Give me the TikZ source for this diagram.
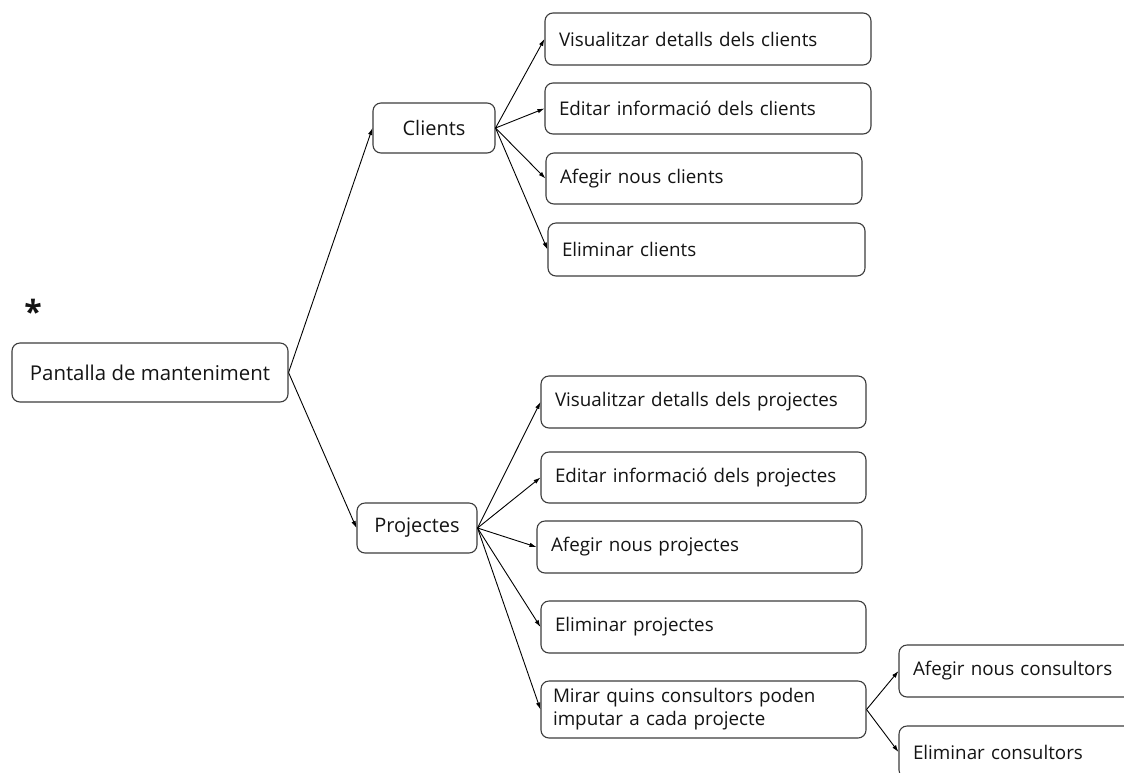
\documentclass[tikz,border=0pt]{standalone}
\usepackage{fontspec}
\setmainfont{Open Sans}
\usetikzlibrary{arrows.meta}
\definecolor{boxline}{HTML}{3C3C3C}
\definecolor{txt}{HTML}{141414}
\tikzset{
  base/.style={draw=boxline, line width=1.1pt, rounded corners=8pt, text=txt, inner ysep=0pt},
  rootbox/.style={base, font=\fontsize{20.4}{24}\selectfont, align=center},
  midbox/.style={base, font=\fontsize{20}{24}\selectfont, align=center},
  leafbox/.style={base, font=\fontsize{18.8}{23}\selectfont, align=left, inner xsep=14pt},
  conn/.style={draw=black, line width=0.9pt, -{Latex[length=7pt,width=4.5pt]}},
}
\begin{document}
\begin{tikzpicture}[x=1pt,y=-1pt]
\path[use as bounding box, clip] (0,0) rectangle (1124,772);
\fill[white] (0,0) rectangle (1124,772);

\node[font=\bfseries\fontsize{32}{32}\selectfont, text=txt, inner sep=0pt] (star) at (33,311) {*};

\node[rootbox, minimum width=276pt, minimum height=59pt] (main) at (150,372.5) {Pantalla de manteniment};

\node[midbox, minimum width=122pt, minimum height=50pt] (cl) at (434,128) {Clients};
\node[midbox, minimum width=120pt, minimum height=50pt] (pr) at (417,528) {Projectes};

\node[leafbox, text width=298pt, minimum height=52pt] (cv) at (708,39) {Visualitzar detalls dels clients};
\node[leafbox, text width=298pt, minimum height=51pt] (ce) at (708,108.5) {Editar informació dels clients};
\node[leafbox, text width=288pt, minimum height=51pt] (ca) at (704,178.5) {Afegir nous clients};
\node[leafbox, text width=289pt, minimum height=53pt] (cd) at (706.5,249.5) {Eliminar clients};

\node[leafbox, text width=297pt, minimum height=52pt] (pv) at (703.5,402) {Visualitzar detalls dels projectes};
\node[leafbox, text width=297pt, minimum height=51pt] (pe) at (703.5,477.5) {Editar informació dels projectes};
\node[leafbox, text width=297pt, minimum height=52pt] (pa) at (699.5,547) {Afegir nous projectes};
\node[leafbox, text width=297pt, minimum height=52pt] (pd) at (703.5,627) {Eliminar projectes};
\node[leafbox, inner xsep=12pt, text width=301pt, minimum height=57pt] (pm) at (703.5,709.5) {Mirar quins consultors poden\\imputar a cada projecte};

\node[leafbox, text width=212pt, minimum height=52pt] (ka) at (1019,671) {Afegir nous consultors};
\node[leafbox, text width=212pt, minimum height=52pt] (kd) at (1019,752) {Eliminar consultors};

\draw[conn] (main.east) -- (cl.west);
\draw[conn] (main.east) -- (pr.west);
\foreach \t in {cv,ce,ca,cd} \draw[conn] (cl.east) -- (\t.west);
\foreach \t in {pv,pe,pa,pd,pm} \draw[conn] (pr.east) -- (\t.west);
\draw[conn] (pm.east) -- (ka.west);
\draw[conn] (pm.east) -- (kd.west);
\end{tikzpicture}
\end{document}
